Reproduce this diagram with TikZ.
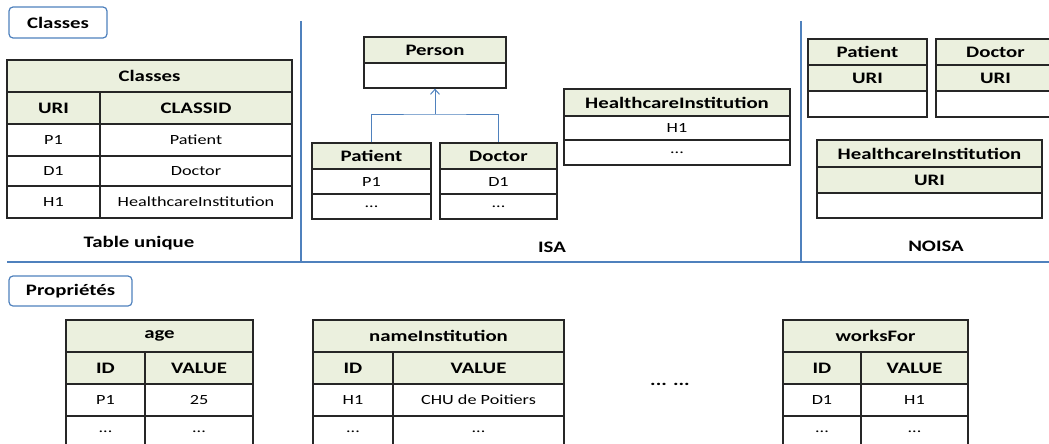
\documentclass[tikz,border=0pt]{standalone}
\usepackage{fontspec}
\setmainfont{Carlito}[FakeStretch=1.3]
\usetikzlibrary{arrows.meta}
\definecolor{hdgreen}{RGB}{235,240,222}
\definecolor{lineblue}{RGB}{79,129,189}
\newcommand{\tdots}{...}
\newcommand{\bigbf}{\fontsize{16}{18}\selectfont\bfseries}
\tikzset{
  hd/.style={draw=black!85, line width=1.2pt, fill=hdgreen, font=\bigbf, inner sep=0pt},
  cl/.style={draw=black!85, line width=1.2pt, fill=white, inner sep=0pt},
  tag/.style={draw=lineblue, line width=1.2pt, rounded corners=4pt, font=\bigbf, inner sep=0pt},
  sep/.style={draw=lineblue, line width=1.3pt},
  lbl/.style={font=\bigbf}
}
\begin{document}
\fontsize{14}{16}\selectfont
\begin{tikzpicture}[x=1pt,y=-1pt]
\useasboundingbox (0,0) rectangle (1049,444);
\clip (0,0) rectangle (1049,444);
% section frames
    \draw[sep] (301,21) -- (301,262);
    \draw[sep] (801,21) -- (801,262);
    \draw[sep] (7,262) -- (1049,262);
    \node[tag, minimum width=98, minimum height=31] (tcls) at (58,22.5) {Classes};
    \node[tag, minimum width=123, minimum height=30] (tprop) at (70.5,291) {Propriétés};

  % header cells
  \foreach \n/\a/\b/\c/\d/\t in {ct/7/60/292/92/Classes, cu/7/92/100/124/URI, cc/100/92/292/124/CLASSID,
      ipe/364/37/506/63/Person, ipa/312/143/431/169/Patient, ido/440/143/557/169/Doctor,
      ihc/564/89/790/116/HealthcareInstitution,
      npa/808/39/927/65/Patient, npa2/808/65/927/91/URI, ndo/936/39/1055/65/Doctor, ndo2/936/65/1055/91/URI,
      nhc/817/140/1042/167/HealthcareInstitution, nhc2/817/167/1042/193/URI,
      age/66/320/253/352/age, aid/66/352/145/384/ID, aval/145/352/253/384/VALUE,
      nin/313/320/564/352/nameInstitution, nid/313/352/393/384/ID, nval/393/352/564/384/VALUE,
      wf/783/320/968/352/worksFor, wid/783/352/861/384/ID, wval/861/352/968/384/VALUE} {
    \node[hd, minimum width=\c-\a, minimum height=\d-\b] (\n) at ({(\a+\c)/2},{(\b+\d)/2}) {\t};
  }
  % body cells
  \foreach \n/\a/\b/\c/\d/\t in {cp1/7/124/100/156/P1, cp2/100/124/292/156/Patient, cd1/7/156/100/186/D1,
      cd2/100/156/292/186/Doctor, ch1/7/186/100/218/H1, ch2/100/186/292/218/HealthcareInstitution,
      ipe2/364/63/506/88/{}, ipa2/312/169/431/194/P1, ipa3/312/194/431/219/\tdots, ido2/440/169/557/194/D1,
      ido3/440/194/557/219/\tdots, ihc2/564/116/790/140/H1, ihc3/564/140/790/165/\tdots,
      npa3/808/91/927/117/{}, ndo3/936/91/1055/117/{}, nhc3/817/193/1042/218/{},
      a1/66/384/145/416/P1, a2/145/384/253/416/25, a3/66/416/145/448/\tdots, a4/145/416/253/448/\tdots,
      n1/313/384/393/416/H1, n2/393/384/564/416/CHU de Poitiers, n3/313/416/393/448/\tdots, n4/393/416/564/448/\tdots,
      w1/783/384/861/416/D1, w2/861/384/968/416/H1, w3/783/416/861/448/\tdots, w4/861/416/968/448/\tdots} {
    \node[cl, minimum width=\c-\a, minimum height=\d-\b] (\n) at ({(\a+\c)/2},{(\b+\d)/2}) {\t};
  }
  % ISA link
    \coordinate (isaj) at (435,114);
    \draw[sep, line width=1pt] (ipa.north) |- (isaj) -| (ido.north);
    \draw[sep, line width=1pt, -{Straight Barb[length=5pt,width=9pt]}] (isaj) -- (ipe2.south);
  % captions
    \node[lbl] (tu) at (139,243) {Table unique};
    \node[lbl] (isa) at (552,247) {ISA};
    \node[lbl] (noisa) at (936,246) {NOISA};
    \node[lbl] (more) at (670,384) {... ...};
\end{tikzpicture}
\end{document}
